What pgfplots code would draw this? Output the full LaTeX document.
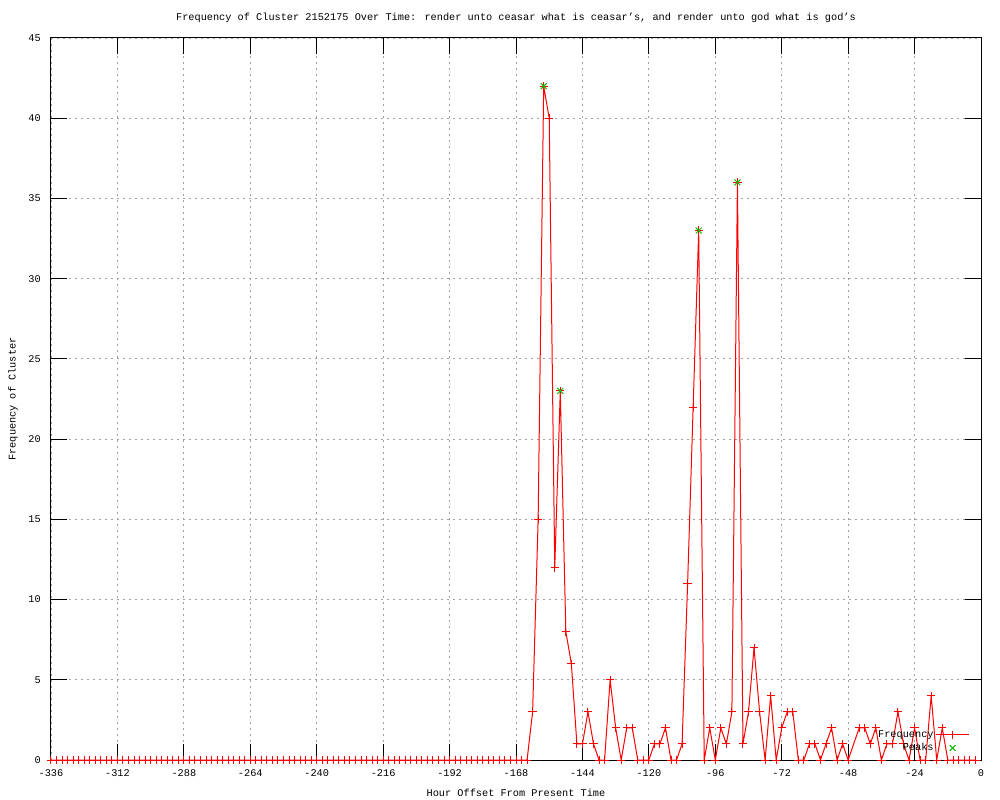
\documentclass[border=0pt]{standalone}
\usepackage{pgfplots}
\pgfplotsset{compat=1.18}
\usepackage{fontspec}
\setmainfont{Liberation Mono}
\definecolor{gridgray}{RGB}{160,160,160}
\definecolor{gpgreen}{RGB}{0,192,0}
\pgfplotsset{
    freqleg/.style={legend image code/.code={\draw[mark repeat=2,mark phase=2,##1] plot coordinates {(0pt,0pt) (12.4pt,0pt) (24.75pt,0pt)};}},
    peakleg/.style={legend image code/.code={\draw[##1] plot coordinates {(12.4pt,0pt)};}},
}
\begin{document}
\begin{tikzpicture}
\path[use as bounding box, fill=white] (-38.25pt,-30pt) rectangle (711.75pt,570pt);
\begin{axis}[
    scale only axis,
    width=697.5pt, height=541.5pt,
    xmin=-336, xmax=0, ymin=0, ymax=45,
    xtick={-336,-312,...,0},
    ytick={0,5,...,45},
    font=\fontsize{7.7}{9}\selectfont,
    /pgf/number format/assume math mode=true,
    tick align=inside,
    major tick length=12pt,
    tick style={black, line width=0.75pt},
    axis line style={black, line width=0.75pt},
    grid=major,
    major grid style={gridgray, line width=0.6pt, dash pattern=on 1.5pt off 3pt},
    xticklabel style={inner sep=0pt, anchor=center, yshift=-9.75pt},
    yticklabel style={inner sep=0pt, anchor=east, xshift=-7.5pt},
    every axis title shift=0pt,
    title={Frequency of Cluster 2152175 Over Time: render unto ceasar what is ceasar’s, and render unto god what is god’s},
    title style={at={(axis description cs:0.5,1.0277)}, anchor=center, inner sep=0pt},
    xlabel={Hour Offset From Present Time},
    xlabel style={at={(axis description cs:0.5,-0.0457)}, anchor=center, inner sep=0pt},
    ylabel={Frequency of Cluster},
    ylabel style={at={(axis description cs:-0.0409,0.5)}, anchor=center, inner sep=0pt},
    legend cell align=right,
    legend plot pos=right,
    legend style={at={(axis description cs:0.988,0.044)}, anchor=north east,
        draw=none, fill=none, inner sep=0pt,
        nodes={inner sep=1.5pt}, row sep=0pt},
]
\addplot[red, line width=0.75pt, mark=+, mark size=3.1pt, freqleg]
coordinates {
(-336,0) (-334,0) (-332,0) (-330,0) (-328,0) (-326,0) (-324,0) (-322,0) (-320,0) (-318,0)
(-316,0) (-314,0) (-312,0) (-310,0) (-308,0) (-306,0) (-304,0) (-302,0) (-300,0) (-298,0)
(-296,0) (-294,0) (-292,0) (-290,0) (-288,0) (-286,0) (-284,0) (-282,0) (-280,0) (-278,0)
(-276,0) (-274,0) (-272,0) (-270,0) (-268,0) (-266,0) (-264,0) (-262,0) (-260,0) (-258,0)
(-256,0) (-254,0) (-252,0) (-250,0) (-248,0) (-246,0) (-244,0) (-242,0) (-240,0) (-238,0)
(-236,0) (-234,0) (-232,0) (-230,0) (-228,0) (-226,0) (-224,0) (-222,0) (-220,0) (-218,0)
(-216,0) (-214,0) (-212,0) (-210,0) (-208,0) (-206,0) (-204,0) (-202,0) (-200,0) (-198,0)
(-196,0) (-194,0) (-192,0) (-190,0) (-188,0) (-186,0) (-184,0) (-182,0) (-180,0) (-178,0)
(-176,0) (-174,0) (-172,0) (-170,0) (-168,0) (-166,0) (-164,0)
(-162,3) (-160,15) (-158,42) (-156,40) (-154,12) (-152,23) (-150,8) (-148,6) (-146,1) (-144,1)
(-142,3) (-140,1) (-138,0) (-136,0) (-134,5) (-132,2) (-130,0) (-128,2) (-126,2) (-124,0)
(-122,0) (-120,0) (-118,1) (-116,1) (-114,2) (-112,0) (-110,0) (-108,1) (-106,11) (-104,22)
(-102,33) (-100,0) (-98,2) (-96,0) (-94,2) (-92,1) (-90,3) (-88,36) (-86,1) (-84,3)
(-82,7) (-80,3) (-78,0) (-76,4) (-74,0) (-72,2) (-70,3) (-68,3) (-66,0) (-64,0)
(-62,1) (-60,1) (-58,0) (-56,1) (-54,2) (-52,0) (-50,1) (-48,0) (-44,2)
(-42,2) (-40,1) (-38,2) (-36,0) (-34,1) (-32,1) (-30,3) (-28,1) (-26,0) (-24,2)
(-22,0) (-20,0) (-18,4) (-16,0) (-14,2) (-12,0) (-10,0) (-8,0) (-6,0) (-4,0) (-2,0)
};
\addlegendentry{Frequency}
% black baseline over the zero values, as in the original
\addplot[black, line width=0.75pt, forget plot] coordinates {(-336,0) (0,0)};
\addplot[gpgreen, only marks, mark=x, mark size=3.1pt, line width=0.75pt, peakleg]
coordinates {(-158,42) (-152,23) (-102,33) (-88,36)};
\addlegendentry{Peaks}
\end{axis}
\end{tikzpicture}
\end{document}
